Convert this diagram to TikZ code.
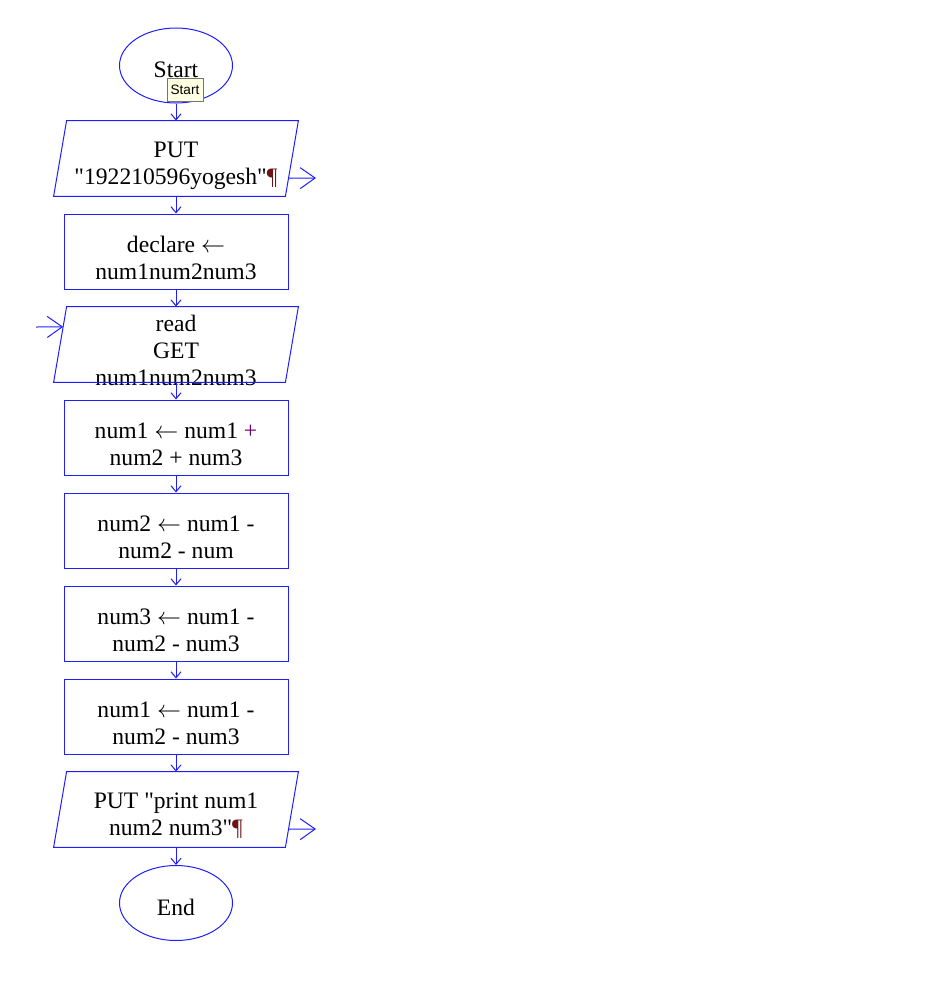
\documentclass[tikz,border=0pt]{standalone}
\usepackage{fontspec}
\setmainfont{Liberation Serif}[Ligatures=TeXOff]
\newfontfamily\tipfont{Liberation Sans}
\usetikzlibrary{shapes.geometric,arrows.meta,calc}
\definecolor{flowblue}{RGB}{30,30,255}
\definecolor{pilcrow}{RGB}{110,20,20}
\definecolor{plusmark}{RGB}{110,0,110}
\definecolor{tipfill}{RGB}{255,255,225}
\tikzset{
	flowline/.style={draw=flowblue,line width=0.5pt},
	procbox/.style={flowline,rectangle,minimum width=112pt,minimum height=37.5pt,inner sep=0pt},
	iobox/.style={rectangle,minimum width=122pt,minimum height=37.5pt,inner sep=0pt},
	termbox/.style={flowline,ellipse,minimum width=56.5pt,minimum height=37.5pt,inner sep=0pt},
	txt/.style={align=center,font=\fontsize{11.8}{13.5}\selectfont,inner sep=0pt},
	tipbox/.style={draw=black!55,fill=tipfill,line width=0.5pt,font=\tipfont\fontsize{6.8}{8}\selectfont,minimum width=18pt,minimum height=11.5pt,inner sep=0.5pt},
	link/.style={flowblue,line width=0.5pt,-{Straight Barb[length=3pt,width=5pt]}},
	sidelink/.style={flowblue,line width=0.5pt,-{Straight Barb[length=7.5pt,width=10.5pt]}},
}
\newcommand\assignarrow{$\leftarrow$}
\begin{document}
\begin{tikzpicture}[x=0.5pt,y=-0.5pt]
	\useasboundingbox (0,0) rectangle (944,987);
	\def\slant{6.5pt}
	\node[termbox] (start) at (176,65.5) {};
	\node[txt] (starttxt) at ([yshift=-2.2pt]start.center) {Start};
	\node[iobox] (p1) at (176,158.5) {};
	\node[txt] (p1txt) at ([yshift=-3.5pt]p1.center) {PUT\\"192210596yogesh"\textcolor{pilcrow}{¶}};
	\node[procbox] (r2) at (176,251.5) {};
	\node[txt] (r2txt) at ([yshift=-3pt]r2.center) {declare \assignarrow\\num1num2num3};
	\node[iobox] (p3) at (176,344.5) {};
	\node[txt] (p3txt) at ([yshift=-3.2pt]p3.center) {read\\GET\\num1num2num3};
	\node[procbox] (r4) at (176,437.5) {};
	\node[txt] (r4txt) at ([yshift=-3.5pt]r4.center) {num1 \assignarrow\ num1 \textcolor{plusmark}{+}\\num2 + num3};
	% the three boxes below
	\foreach \first/\second [count=\j from 5] in {{num2 \assignarrow\ num1 -}/{num2 - num},{num3 \assignarrow\ num1 -}/{num2 - num3},{num1 \assignarrow\ num1 -}/{num2 - num3}}
	{
		\def\y{437.5+93*(\j-4)}
		\node[procbox] (r\j) at (176,{\y}) {};
		\node[txt] (r\j txt) at ([yshift=-3.5pt]r\j.center) {\first\\\second};
	}
	\node[iobox] (p8) at (176,809.5) {};
	\node[txt] (p8txt) at ([yshift=-3.2pt]p8.center) {PUT "print num1\\num2 num3"\textcolor{pilcrow}{¶}};
	\node[termbox] (end) at (176,903) {};
	\node[txt] (endtxt) at ([yshift=-2pt]end.center) {End};

	% parallelogram outlines
	\foreach \p in {p1,p3,p8}
	{
		\draw[flowline] ([xshift=\slant]\p.north west) -- (\p.north east) -- ([xshift=-\slant]\p.south east) -- (\p.south west) -- cycle;
	}

	\draw[link] (start) -- (p1);
	\draw[link] (p1) -- (r2);
	\draw[link] (r2) -- (p3);
	\draw[link] (p3) -- (r4);
	\draw[link] (r4) -- (r5);
	\draw[link] (r5) -- (r6);
	\draw[link] (r6) -- (r7);
	\draw[link] (r7) -- (p8);
	\draw[link] (p8) -- (end);

	\coordinate (p1out) at ($([xshift=-\slant]p1.south east)!0.24!(p1.north east)$);
	\coordinate (p1end) at (316,178);
	\draw[sidelink] (p1out) -- (p1end);
	\coordinate (p3src) at (36,327);
	\coordinate (p3in) at ($([xshift=\slant]p3.north west)!0.267!(p3.south west)$);
	\draw[sidelink] (p3src) -- (p3in);
	\coordinate (p8out) at ($([xshift=-\slant]p8.south east)!0.24!(p8.north east)$);
	\coordinate (p8end) at (316,829);
	\draw[sidelink] (p8out) -- (p8end);

	\node[tipbox] (starttip) at (185,89.5) {Start};
\end{tikzpicture}
\end{document}
